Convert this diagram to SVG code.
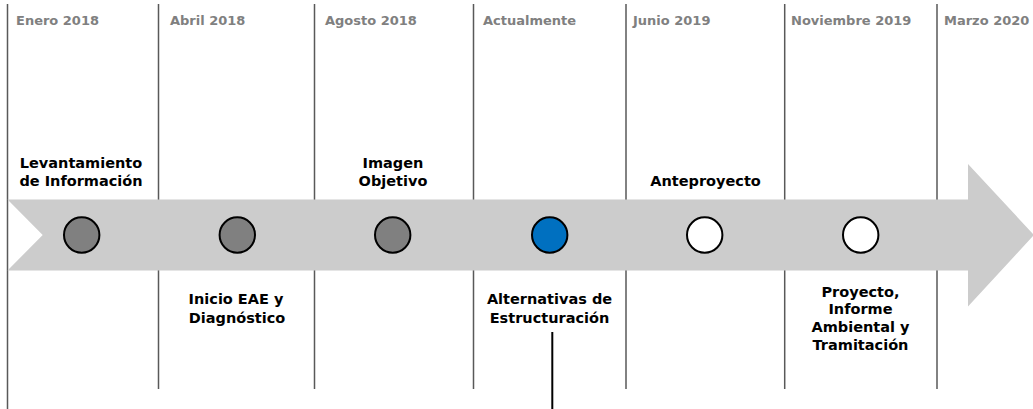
<svg xmlns="http://www.w3.org/2000/svg" width="1033" height="409" viewBox="0 0 1033 409">
  <style>
    .grid { stroke: #595959; stroke-width: 1.5; fill: none; }
    .hdr { font-family: "DejaVu Sans", "Liberation Sans", sans-serif; font-weight: bold; font-size: 13px; fill: #808080; }
    .lbl { font-family: "DejaVu Sans", "Liberation Sans", sans-serif; font-weight: bold; font-size: 14.5px; fill: #000000; text-anchor: middle; }
    .dot { stroke: #000000; stroke-width: 2; }
    .done { fill: #808080; }
    .now { fill: #0070c0; }
    .todo { fill: #ffffff; }
  </style>
  <rect width="1033" height="409" fill="#ffffff"/>

  <g id="columns">
    <line class="grid" x1="7.5" y1="4" x2="7.5" y2="409" stroke="#404040"/>
    <line class="grid" x1="158.5" y1="4" x2="158.5" y2="389"/>
    <line class="grid" x1="314.5" y1="4" x2="314.5" y2="389"/>
    <line class="grid" x1="473.5" y1="4" x2="473.5" y2="389"/>
    <line class="grid" x1="626" y1="4" x2="626" y2="389"/>
    <line class="grid" x1="784.7" y1="4" x2="784.7" y2="389"/>
    <line class="grid" x1="937" y1="4" x2="937" y2="389"/>
  </g>

  <g id="headers">
    <text class="hdr" x="16" y="25">Enero 2018</text>
    <text class="hdr" x="170" y="25">Abril 2018</text>
    <text class="hdr" x="325" y="25">Agosto 2018</text>
    <text class="hdr" x="483" y="25">Actualmente</text>
    <text class="hdr" x="633" y="25">Junio 2019</text>
    <text class="hdr" x="791" y="25">Noviembre 2019</text>
    <text class="hdr" x="944" y="25">Marzo 2020</text>
  </g>

  <g id="connectors">
    <path id="timeline-arrow" d="M7.5,199.5 L968,199.5 L968,164 L1034,235 L968,306.5 L968,270.5 L7.5,270.5 L42.7,235 Z" fill="#cccccc"/>
    <line id="current-marker" x1="552.3" y1="332" x2="552.3" y2="409" stroke="#000000" stroke-width="2"/>
  </g>

  <g id="levantamiento">
    <circle class="dot done" cx="81.7" cy="235" r="17.7"/>
    <text class="lbl" x="81" y="167.5">Levantamiento</text>
    <text class="lbl" x="81" y="185.5">de Información</text>
  </g>

  <g id="inicio-eae">
    <circle class="dot done" cx="237.3" cy="235" r="17.7"/>
    <text class="lbl" x="236" y="304">Inicio EAE y</text>
    <text class="lbl" x="237" y="323">Diagnóstico</text>
  </g>

  <g id="imagen-objetivo">
    <circle class="dot done" cx="392.7" cy="235" r="17.7"/>
    <text class="lbl" x="393" y="167.5">Imagen</text>
    <text class="lbl" x="393" y="185.5">Objetivo</text>
  </g>

  <g id="alternativas">
    <circle class="dot now" cx="549.7" cy="235" r="17.7"/>
    <text class="lbl" x="549.5" y="304">Alternativas de</text>
    <text class="lbl" x="549.5" y="323">Estructuración</text>
  </g>

  <g id="anteproyecto">
    <circle class="dot todo" cx="704.7" cy="235" r="17.7"/>
    <text class="lbl" x="705.5" y="185.5">Anteproyecto</text>
  </g>

  <g id="proyecto">
    <circle class="dot todo" cx="860.7" cy="235" r="17.7"/>
    <text class="lbl" x="860.5" y="297">Proyecto,</text>
    <text class="lbl" x="860.5" y="314">Informe</text>
    <text class="lbl" x="860.5" y="332">Ambiental y</text>
    <text class="lbl" x="860.5" y="350">Tramitación</text>
  </g>
</svg>
